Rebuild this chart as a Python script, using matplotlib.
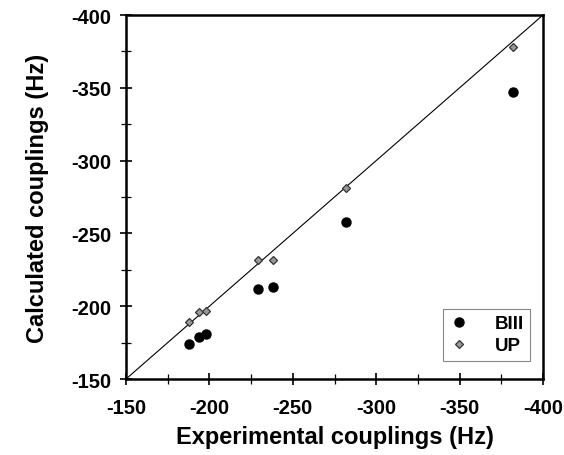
import matplotlib
matplotlib.use('Agg')
import matplotlib.pyplot as plt
from matplotlib.ticker import MultipleLocator

plt.rcParams['font.family'] = ['Liberation Sans', 'DejaVu Sans']
plt.rcParams['font.weight'] = 'bold'
plt.rcParams['axes.unicode_minus'] = False

# experimental vs calculated couplings (Hz)
biii_exp = [-188, -194, -198, -229, -238, -282, -382]
biii_calc = [-174, -179, -181, -212, -213, -258, -347]
up_exp = [-188, -194, -198, -229, -238, -282, -382]
up_calc = [-189, -196, -197, -232, -232, -281, -378]

fig = plt.figure(figsize=(5.64, 4.56), dpi=100)
ax = fig.add_axes([126 / 564, 1 - 380 / 456, 417 / 564, 364 / 456])

ax.plot([-150, -400], [-150, -400], color='black', lw=0.8, zorder=1)
ax.plot(biii_exp, biii_calc, 'o', color='black', ms=6.5, label='BIII', zorder=3)
ax.plot(up_exp, up_calc, 'D', color='#999999', mec='#333333', mew=0.9, ms=4.5, label='UP', zorder=3)

ax.set_xlim(-150, -400)
ax.set_ylim(-150, -400)
ax.xaxis.set_major_locator(MultipleLocator(50))
ax.yaxis.set_major_locator(MultipleLocator(50))
ax.xaxis.set_minor_locator(MultipleLocator(25))
ax.yaxis.set_minor_locator(MultipleLocator(25))
ax.tick_params(which='major', direction='inout', length=9, width=1.2, labelsize=14.5, pad=6)
ax.tick_params(axis='x', which='major', pad=9)
ax.tick_params(which='minor', direction='inout', length=7, width=0.9)
for lab in ax.get_xticklabels() + ax.get_yticklabels():
    lab.set_fontweight('bold')
for sp in ax.spines.values():
    sp.set_linewidth(1.8)

ax.set_xlabel('Experimental couplings (Hz)', fontsize=17, fontweight='bold', labelpad=6)
ax.set_ylabel('Calculated couplings (Hz)', fontsize=17, fontweight='bold', labelpad=16)

leg = ax.legend(loc='lower right', bbox_to_anchor=(0.97, 0.05), fancybox=False, framealpha=1,
                edgecolor='#888888', prop={'weight': 'bold', 'size': 13.5}, handletextpad=1.4,
                borderpad=0.35, labelspacing=0.25, handlelength=1.0, borderaxespad=0)
leg.get_frame().set_linewidth(0.8)

fig.savefig('out.png', dpi=100)
